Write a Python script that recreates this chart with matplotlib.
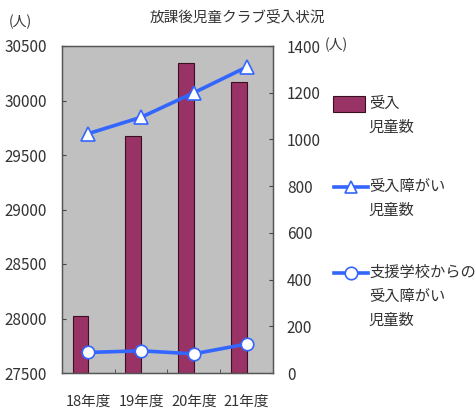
import matplotlib
matplotlib.use("Agg")
import matplotlib.pyplot as plt
import numpy as np
from matplotlib.patches import Rectangle
from matplotlib.lines import Line2D

plt.rcParams['font.family'] = ['Noto Sans CJK JP', 'DejaVu Sans']

categories = ['18年度', '19年度', '20年度', '21年度']
children = [28020, 29675, 30345, 30170]          # 受入児童数 (left axis)
disabled = [1025, 1095, 1200, 1310]              # 受入障がい児童数 (right axis)
from_school = [88, 95, 82, 124]                  # 支援学校からの受入障がい児童数 (right axis)
left_ticks = [27500, 28000, 28500, 29000, 29500, 30000, 30500]
right_ticks = [0, 200, 400, 600, 800, 1000, 1200, 1400]

title = '放課後児童クラブ受入状況'
labels = ['受入\n児童数', '受入障がい\n児童数', '支援学校からの\n受入障がい\n児童数']

W, H = 477, 418
fig = plt.figure(figsize=(W / 100, H / 100), dpi=100)
fig.patch.set_facecolor('white')

ax = fig.add_axes([62 / W, 1 - 373 / H, (273 - 62) / W, (373 - 46) / H])
ax.set_facecolor('#c0c0c0')
x = np.arange(len(categories))
bar_color = '#993366'
ax.bar(x, [v - 27500 for v in children], bottom=27500, width=-0.3, align='edge',
       color=bar_color, edgecolor='#3a1020', linewidth=0.8, zorder=2)
ax.set_xlim(-0.5, len(categories) - 0.5)
ax.set_ylim(27500, 30500)
ax.set_yticks(left_ticks)
ax.set_yticklabels([str(t) for t in left_ticks], fontsize=11, color='#333333')
ax.set_xticks(x)
ax.set_xticklabels(categories, fontsize=10.5, color='#333333')
ax.set_xticks(np.arange(len(categories) + 1) - 0.5, minor=True)
ax.tick_params(axis='x', which='major', length=0, pad=16)
ax.tick_params(axis='x', which='minor', direction='in', length=3, color='#444444')
ax.tick_params(axis='y', direction='in', length=3, color='#444444', pad=11)
for s in ax.spines.values():
    s.set_color('#555555')
    s.set_linewidth(1.0)

ax2 = ax.twinx()
line_color = '#3366ff'
ax2.plot(x, disabled, color=line_color, lw=2.6, marker='^', ms=10,
         mfc='white', mec=line_color, mew=1.2, zorder=3)
ax2.plot(x, from_school, color=line_color, lw=2.6, marker='o', ms=9,
         mfc='white', mec=line_color, mew=1.2, zorder=3)
ax2.set_ylim(0, 1400)
ax2.set_yticks(right_ticks)
ax2.set_yticklabels([str(t) for t in right_ticks], fontsize=11, color='#333333')
ax2.tick_params(axis='y', direction='in', length=3, color='#444444', pad=10)
for s in ax2.spines.values():
    s.set_color('#555555')

fig.text(237 / W, 1 - 17 / H, title, ha='center', va='center', fontsize=10.5, color='#333333')
fig.text(20 / W, 1 - 22 / H, '(人)', ha='center', va='center', fontsize=10, color='#333333')
fig.text(336 / W, 1 - 45 / H, '(人)', ha='center', va='center', fontsize=10, color='#333333')

# legend
lax = fig.add_axes([0, 0, 1, 1])
lax.set_xlim(0, W)
lax.set_ylim(H, 0)
lax.axis('off')
lax.add_patch(Rectangle((333, 96), 32, 16, facecolor=bar_color, edgecolor='#3a1020', lw=0.8))
lax.add_line(Line2D([334, 368], [187, 187], color=line_color, lw=2.6))
lax.plot([351], [187], marker='^', ms=9, mfc='white', mec=line_color, mew=1.2)
lax.add_line(Line2D([334, 368], [273, 273], color=line_color, lw=2.6))
lax.plot([351], [273], marker='o', ms=9, mfc='white', mec=line_color, mew=1.2)
for yy, lab in zip([104, 187, 273], labels):
    lax.text(369, yy - 9, lab, ha='left', va='top', fontsize=11, color='#333333',
             linespacing=1.55)

fig.savefig('out.png', dpi=100)
